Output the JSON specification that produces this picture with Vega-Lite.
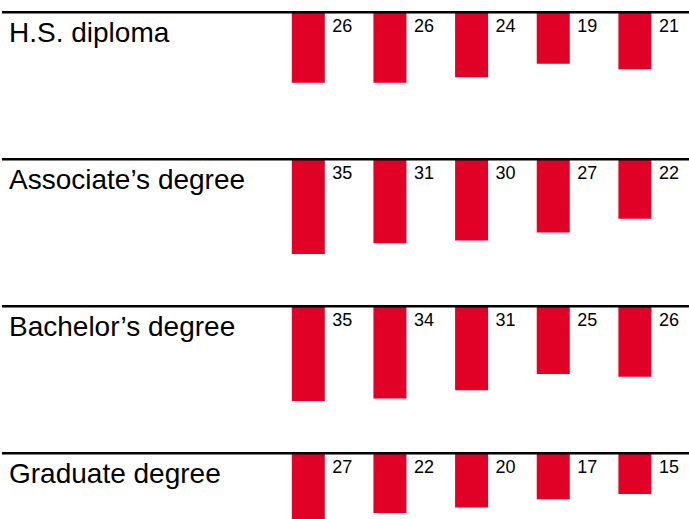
{
  "$schema": "https://vega.github.io/schema/vega-lite/v6.json",
  "padding": {"top": 10.25, "left": 0, "right": 0, "bottom": 0},
  "spacing": 0,
  "bounds": "flush",
  "config": {"view": {"stroke": null}, "axis": {"disable": true}, "font": "Liberation Sans"},
  "data": {"values": [
    {"category": "H.S. diploma", "period": 1, "value": 26},
    {"category": "H.S. diploma", "period": 2, "value": 26},
    {"category": "H.S. diploma", "period": 3, "value": 24},
    {"category": "H.S. diploma", "period": 4, "value": 19},
    {"category": "H.S. diploma", "period": 5, "value": 21},
    {"category": "Associate’s degree", "period": 1, "value": 35},
    {"category": "Associate’s degree", "period": 2, "value": 31},
    {"category": "Associate’s degree", "period": 3, "value": 30},
    {"category": "Associate’s degree", "period": 4, "value": 27},
    {"category": "Associate’s degree", "period": 5, "value": 22},
    {"category": "Bachelor’s degree", "period": 1, "value": 35},
    {"category": "Bachelor’s degree", "period": 2, "value": 34},
    {"category": "Bachelor’s degree", "period": 3, "value": 31},
    {"category": "Bachelor’s degree", "period": 4, "value": 25},
    {"category": "Bachelor’s degree", "period": 5, "value": 26},
    {"category": "Graduate degree", "period": 1, "value": 27},
    {"category": "Graduate degree", "period": 2, "value": 22},
    {"category": "Graduate degree", "period": 3, "value": 20},
    {"category": "Graduate degree", "period": 4, "value": 17},
    {"category": "Graduate degree", "period": 5, "value": 15}
  ]},
  "vconcat": [
    {
      "width": 689, "height": 146.5,
      "transform": [{"filter": "datum.category == 'H.S. diploma'"}],
      "encoding": {
        "x": {"field": "period", "type": "quantitative", "scale": {"domain": [-2.751, 5.687], "padding": 0, "nice": false}, "axis": null},
        "y": {"field": "value", "type": "quantitative", "scale": {"domain": [0, 54.06], "reverse": true, "padding": 0, "nice": false}, "axis": null}
      },
      "layer": [
        {"mark": {"type": "bar", "size": 33, "color": "#e10026", "clip": true}},
        {"transform": [{"filter": "datum.period == 1"}], "mark": {"type": "rule", "strokeWidth": 2.5, "color": "#000"}, "encoding": {"x": null, "y": {"datum": 0}}},
        {"mark": {"type": "text", "align": "left", "baseline": "alphabetic", "dx": 24, "dy": 20, "fontSize": 18, "color": "#000"}, "encoding": {"y": {"datum": 0}, "text": {"field": "value"}}},
        {"transform": [{"filter": "datum.period == 1"}], "mark": {"type": "text", "align": "left", "baseline": "alphabetic", "dx": 7, "dy": 30, "fontSize": 28, "color": "#000"}, "encoding": {"x": {"datum": -2.751}, "y": {"datum": 0}, "text": {"field": "category"}}}
      ]
    },
    {
      "width": 689, "height": 146.5,
      "transform": [{"filter": "datum.category == 'Associate’s degree'"}],
      "encoding": {
        "x": {"field": "period", "type": "quantitative", "scale": {"domain": [-2.751, 5.687], "padding": 0, "nice": false}, "axis": null},
        "y": {"field": "value", "type": "quantitative", "scale": {"domain": [0, 54.06], "reverse": true, "padding": 0, "nice": false}, "axis": null}
      },
      "layer": [
        {"mark": {"type": "bar", "size": 33, "color": "#e10026", "clip": true}},
        {"transform": [{"filter": "datum.period == 1"}], "mark": {"type": "rule", "strokeWidth": 2.5, "color": "#000"}, "encoding": {"x": null, "y": {"datum": 0}}},
        {"mark": {"type": "text", "align": "left", "baseline": "alphabetic", "dx": 24, "dy": 20, "fontSize": 18, "color": "#000"}, "encoding": {"y": {"datum": 0}, "text": {"field": "value"}}},
        {"transform": [{"filter": "datum.period == 1"}], "mark": {"type": "text", "align": "left", "baseline": "alphabetic", "dx": 7, "dy": 30, "fontSize": 28, "color": "#000"}, "encoding": {"x": {"datum": -2.751}, "y": {"datum": 0}, "text": {"field": "category"}}}
      ]
    },
    {
      "width": 689, "height": 146.5,
      "transform": [{"filter": "datum.category == 'Bachelor’s degree'"}],
      "encoding": {
        "x": {"field": "period", "type": "quantitative", "scale": {"domain": [-2.751, 5.687], "padding": 0, "nice": false}, "axis": null},
        "y": {"field": "value", "type": "quantitative", "scale": {"domain": [0, 54.06], "reverse": true, "padding": 0, "nice": false}, "axis": null}
      },
      "layer": [
        {"mark": {"type": "bar", "size": 33, "color": "#e10026", "clip": true}},
        {"transform": [{"filter": "datum.period == 1"}], "mark": {"type": "rule", "strokeWidth": 2.5, "color": "#000"}, "encoding": {"x": null, "y": {"datum": 0}}},
        {"mark": {"type": "text", "align": "left", "baseline": "alphabetic", "dx": 24, "dy": 20, "fontSize": 18, "color": "#000"}, "encoding": {"y": {"datum": 0}, "text": {"field": "value"}}},
        {"transform": [{"filter": "datum.period == 1"}], "mark": {"type": "text", "align": "left", "baseline": "alphabetic", "dx": 7, "dy": 30, "fontSize": 28, "color": "#000"}, "encoding": {"x": {"datum": -2.751}, "y": {"datum": 0}, "text": {"field": "category"}}}
      ]
    },
    {
      "width": 689, "height": 68,
      "transform": [{"filter": "datum.category == 'Graduate degree'"}],
      "encoding": {
        "x": {"field": "period", "type": "quantitative", "scale": {"domain": [-2.751, 5.687], "padding": 0, "nice": false}, "axis": null},
        "y": {"field": "value", "type": "quantitative", "scale": {"domain": [0, 25.09], "reverse": true, "padding": 0, "nice": false}, "axis": null}
      },
      "layer": [
        {"mark": {"type": "bar", "size": 33, "color": "#e10026", "clip": true}},
        {"transform": [{"filter": "datum.period == 1"}], "mark": {"type": "rule", "strokeWidth": 2.5, "color": "#000"}, "encoding": {"x": null, "y": {"datum": 0}}},
        {"mark": {"type": "text", "align": "left", "baseline": "alphabetic", "dx": 24, "dy": 20, "fontSize": 18, "color": "#000"}, "encoding": {"y": {"datum": 0}, "text": {"field": "value"}}},
        {"transform": [{"filter": "datum.period == 1"}], "mark": {"type": "text", "align": "left", "baseline": "alphabetic", "dx": 7, "dy": 30, "fontSize": 28, "color": "#000"}, "encoding": {"x": {"datum": -2.751}, "y": {"datum": 0}, "text": {"field": "category"}}}
      ]
    }
  ]
}
